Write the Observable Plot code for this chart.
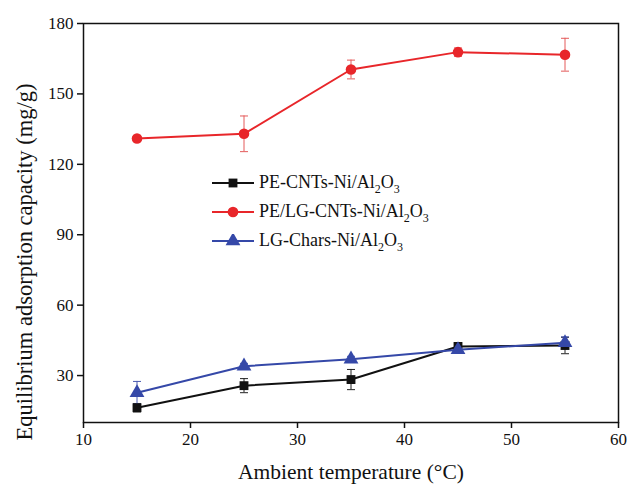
<!DOCTYPE html>
<html><head><meta charset="utf-8">
<script src="https://cdn.jsdelivr.net/npm/d3@7"></script>
<script src="https://cdn.jsdelivr.net/npm/@observablehq/plot@0.6"></script>
<style>
body{margin:0;background:#fff;font-family:"Liberation Serif","Times New Roman",serif;}
#wrap{position:relative;width:629px;height:486px;}
#wrap svg text{font-family:"Liberation Serif","Times New Roman",serif;}
#wrap g[aria-label="x-axis tick label"] text,#wrap g[aria-label="y-axis tick label"] text{font-size:17px !important;}
#wrap g[aria-label="x-axis label"] text{font-size:21.5px !important;}
#wrap g[aria-label="y-axis label"] text{font-size:22.5px !important;}
#legend{position:absolute;left:212px;top:168px;font-size:18px;color:#111;}
.row{display:flex;align-items:center;height:29px;}
.row svg{margin-right:5px;}
sub{font-size:12px;vertical-align:-5px;line-height:0;}
</style></head><body><div id="wrap"><div id="legend"></div></div>
<script>
const temps = [15, 25, 35, 45, 55];
const seriesNames = ["PE-CNTs-Ni/Al2O3", "PE/LG-CNTs-Ni/Al2O3", "LG-Chars-Ni/Al2O3"];
const peCNTs = [16.3, 25.7, 28.3, 42.4, 42.8];
const peCNTsErr = [1.8, 3.0, 4.3, 1.2, 3.5];
const peLgCNTs = [131, 133, 160.4, 167.8, 166.7];
const peLgCNTsErr = [1.0, 7.6, 4.0, 1.8, 7.0];
const lgChars = [22.7, 34.0, 37.0, 41.0, 44.0];
const lgCharsErr = [4.8, 1.2, 1.2, 1.5, 2.5];
const colors = ["#111111", "#e8262a", "#3548a8"];
const errColors = ["#222222", "#e45a5a", "#4a5ab0"];
const symbols = ["square", "circle", "triangle"];
const xTicks = [10, 20, 30, 40, 50, 60];
const yTicks = [30, 60, 90, 120, 150, 180];

const vals = [peCNTs, peLgCNTs, lgChars];
const errs = [peCNTsErr, peLgCNTsErr, lgCharsErr];
const data = [];
seriesNames.forEach((s, i) => temps.forEach((t, j) =>
  data.push({series: s, idx: i, t, v: vals[i][j], e: errs[i][j]})));

const capSymbol = {draw(ctx, size){ const w = 4; ctx.moveTo(-w, 0); ctx.lineTo(w, 0); }};

const marks = [Plot.frame({stroke: "#111", strokeWidth: 1.5})];
seriesNames.forEach((s, i) => {
  const d = data.filter(r => r.idx === i);
  marks.push(Plot.ruleX(d, {x: "t", y1: r => r.v - r.e, y2: r => r.v + r.e, stroke: errColors[i], strokeWidth: 1}));
  marks.push(Plot.dot(d, {x: "t", y: r => r.v - r.e, symbol: capSymbol, stroke: errColors[i], strokeWidth: 1, r: 3}));
  marks.push(Plot.dot(d, {x: "t", y: r => r.v + r.e, symbol: capSymbol, stroke: errColors[i], strokeWidth: 1, r: 3}));
});
seriesNames.forEach((s, i) => {
  const d = data.filter(r => r.idx === i);
  marks.push(Plot.line(d, {x: "t", y: "v", stroke: colors[i], strokeWidth: 2}));
  marks.push(Plot.dot(d, {x: "t", y: "v", fill: colors[i], stroke: "none", symbol: symbols[i], r: symbols[i]==="circle" ? 5.3 : (symbols[i]==="square" ? 5 : 5.5)}));
});
marks.push(Plot.axisX({ticks: xTicks, tickSize: 6, tickPadding: 4, label: "Ambient temperature (°C)", labelAnchor: "center", labelOffset: 56, labelArrow: "none"}));
marks.push(Plot.axisY({ticks: yTicks, tickSize: 6, tickPadding: 4, label: "Equilibrium adsorption capacity (mg/g)", labelAnchor: "center", labelOffset: 67, labelArrow: "none"}));

const chart = Plot.plot({
  width: 629, height: 486,
  marginLeft: 83, marginRight: 11, marginTop: 23, marginBottom: 64,
  style: {fontFamily: '"Liberation Serif","Times New Roman",serif', color: "#111", background: "#fff"},
  x: {domain: [10, 60]},
  y: {domain: [10, 180]},
  marks
});
chart.querySelectorAll('g[aria-label="x-axis tick"], g[aria-label="y-axis tick"]').forEach(g => g.setAttribute("stroke-width", "1.5"));
chart.querySelectorAll('g[aria-label="y-axis label"] text').forEach(t => {
  t.setAttribute("transform", (t.getAttribute("transform") || "") + " translate(-39,0)");
});
document.getElementById("wrap").prepend(chart);

const leg = document.getElementById("legend");
const symPaths = {
  square: d3.symbol(d3.symbolSquare, 78)(),
  circle: d3.symbol(d3.symbolCircle, 90)(),
  triangle: d3.symbol(d3.symbolTriangle, 95)()
};
seriesNames.forEach((s, i) => {
  const row = document.createElement("div");
  row.className = "row";
  const label = s.replace("Al2O3", "Al<sub>2</sub>O<sub>3</sub>");
  row.innerHTML = `<svg width="42" height="14" viewBox="-21 -7 42 14"><line x1="-21" x2="21" y1="0" y2="0" stroke="${colors[i]}" stroke-width="2"/><path d="${symPaths[symbols[i]]}" fill="${colors[i]}"/></svg><span>${label}</span>`;
  leg.appendChild(row);
});
</script></body></html>
